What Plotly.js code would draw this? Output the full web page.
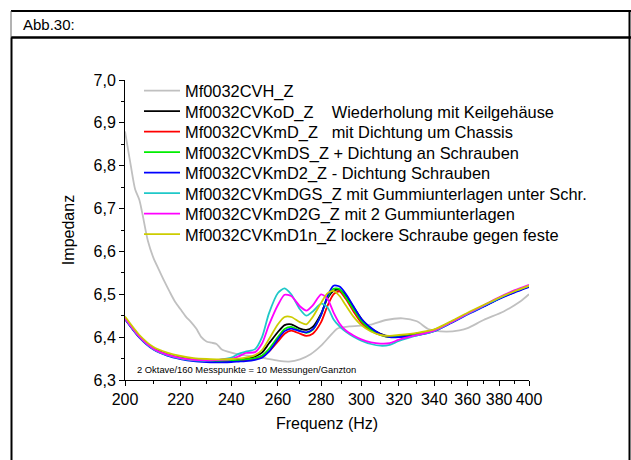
<!DOCTYPE html>
<html><head><meta charset="utf-8">
<script src="https://cdn.plot.ly/plotly-3.0.1.min.js"></script>
<style>html,body{margin:0;padding:0;background:#fff}#chart{width:631px;height:460px}</style>
</head><body><div id="chart"></div>
<script>
// Gray reference curve (own frequency grid)
const freqVH = [200,201,202,203.5,205,206,208,210,212,214,216,218,220,222,224,226,228,230,232,234,236,240,245,250,255,260,265,270,275,280,284,288,294,300,305,313,322,330,337,347,355,360,370,383,394,400];
const zVH = [6.88,6.84,6.80,6.745,6.72,6.69,6.625,6.585,6.557,6.53,6.505,6.482,6.465,6.448,6.435,6.42,6.40,6.39,6.387,6.384,6.372,6.364,6.358,6.355,6.35,6.345,6.343,6.348,6.36,6.38,6.401,6.42,6.425,6.427,6.429,6.44,6.444,6.437,6.418,6.413,6.416,6.421,6.44,6.46,6.483,6.50];

// Common frequency grid for the other curves (Hz)
const freq = [200,205,210,215,220,225,230,235,240,243,246,250,253,256,260,263,266,270,273,276,280,283,286,289,292,296,300,305,310,315,320,330,340,350,360,370,380,390,400];
const zKoD   = [6.444,6.401,6.374,6.360,6.352,6.347,6.345,6.345,6.346,6.347,6.349,6.355,6.364,6.385,6.412,6.428,6.430,6.420,6.417,6.424,6.455,6.490,6.508,6.510,6.498,6.470,6.443,6.420,6.408,6.402,6.403,6.408,6.417,6.435,6.455,6.472,6.490,6.505,6.518];
const zKmD   = [6.443,6.400,6.373,6.359,6.351,6.346,6.344,6.343,6.344,6.345,6.346,6.349,6.354,6.366,6.390,6.408,6.415,6.408,6.403,6.408,6.435,6.472,6.500,6.507,6.490,6.460,6.434,6.415,6.405,6.400,6.401,6.406,6.416,6.435,6.455,6.473,6.491,6.506,6.519];
const zKmDS  = [6.444,6.401,6.373,6.359,6.351,6.346,6.344,6.344,6.345,6.346,6.348,6.351,6.357,6.372,6.400,6.419,6.424,6.415,6.410,6.417,6.452,6.492,6.513,6.512,6.494,6.465,6.438,6.417,6.405,6.400,6.401,6.406,6.416,6.435,6.455,6.473,6.491,6.506,6.519];
const zKmD2  = [6.442,6.399,6.371,6.357,6.349,6.344,6.342,6.341,6.342,6.343,6.344,6.347,6.352,6.366,6.395,6.414,6.420,6.414,6.411,6.418,6.452,6.495,6.520,6.518,6.502,6.472,6.443,6.422,6.407,6.400,6.400,6.404,6.414,6.433,6.453,6.471,6.489,6.504,6.517];
const zKmDGS = [6.443,6.400,6.372,6.358,6.350,6.346,6.345,6.347,6.352,6.361,6.366,6.372,6.400,6.455,6.503,6.514,6.500,6.465,6.450,6.460,6.478,6.470,6.442,6.425,6.413,6.401,6.392,6.384,6.380,6.382,6.391,6.404,6.414,6.434,6.454,6.473,6.491,6.507,6.520];
const zKmD2G = [6.444,6.401,6.373,6.359,6.351,6.347,6.346,6.347,6.349,6.355,6.363,6.365,6.385,6.428,6.475,6.499,6.496,6.472,6.462,6.474,6.500,6.490,6.458,6.432,6.416,6.404,6.395,6.388,6.385,6.386,6.394,6.405,6.415,6.435,6.455,6.474,6.493,6.509,6.522];
const zKmD1n = [6.448,6.405,6.377,6.364,6.356,6.351,6.349,6.348,6.349,6.350,6.352,6.358,6.370,6.395,6.430,6.447,6.447,6.435,6.430,6.447,6.480,6.502,6.508,6.496,6.475,6.448,6.428,6.413,6.405,6.403,6.405,6.410,6.418,6.437,6.457,6.475,6.492,6.507,6.520];

const seriesLabels = [
  'Mf0032CVH_Z',
  'Mf0032CVKoD_Z\u00A0\u00A0\u00A0\u00A0Wiederholung mit Keilgehäuse',
  'Mf0032CVKmD_Z\u00A0\u00A0\u00A0mit Dichtung um Chassis',
  'Mf0032CVKmDS_Z + Dichtung an Schrauben',
  'Mf0032CVKmD2_Z - Dichtung Schrauben',
  'Mf0032CVKmDGS_Z mit Gummiunterlagen unter Schr.',
  'Mf0032CVKmD2G_Z mit 2 Gummiunterlagen',
  'Mf0032CVKmD1n_Z lockere Schraube gegen feste'
];
const seriesColors = ['#c0c0c0','#000000','#ff0000','#00ee00','#0000ff','#1fc8c8','#ff00ff','#cccc00'];

const xTickVals = [200,220,240,260,280,300,320,340,360,380,400];
const xTickText = ['200','220','240','260','280','300','320','340','360','380','400'];
const xMinorVals = [210,230,250,270,290,310,330,350,370,390];

const noteText = '2 Oktave/160 Messpunkte = 10 Messungen/Ganzton';
const headerText = 'Abb.30:';

// Layout geometry (px)
const W = 631, H = 460;
const M = {l:125, r:102, t:80, b:80};
const PW = W - M.l - M.r, PH = H - M.t - M.b;
const px = p => (p - M.l) / PW;
const py = p => (H - M.b - p) / PH;

const xs = [freqVH, freq, freq, freq, freq, freq, freq, freq];
const ys = [zVH, zKoD, zKmD, zKmDS, zKmD2, zKmDGS, zKmD2G, zKmD1n];
const FONT = 'Liberation Sans, Arial, sans-serif';

const traces = ys.map((y, i) => ({
  x: xs[i], y: y, type: 'scatter', mode: 'lines',
  name: seriesLabels[i],
  line: {color: seriesColors[i], width: 1.8, shape: 'spline', smoothing: 0.7},
  legend: i === 0 ? 'legend' : 'legend' + (i + 1),
  showlegend: true
}));

const layout = {
  width: W, height: H,
  margin: M,
  paper_bgcolor: '#fff', plot_bgcolor: '#fff',
  separators: ',.',
  font: {family: FONT, size: 16, color: '#000'},
  xaxis: {
    type: 'log', range: [Math.log10(200), Math.log10(400)],
    tickmode: 'array', tickvals: xTickVals, ticktext: xTickText, tickangle: 0,
    ticks: 'outside', ticklen: 5, tickwidth: 1, tickcolor: '#000',
    minor: {tickmode: 'array', tickvals: xMinorVals, ticks: 'outside', ticklen: 3, tickwidth: 1, tickcolor: '#000'},
    showline: true, linecolor: '#000', linewidth: 1, showgrid: false, zeroline: false,
    tickfont: {family: FONT, size: 16},
    title: {text: 'Frequenz (Hz)', font: {family: FONT, size: 16}, standoff: 10}
  },
  yaxis: {
    range: [6.3, 7.0], dtick: 0.1, tick0: 6.3, tickformat: '.1f',
    ticks: 'outside', ticklen: 5, tickwidth: 1, tickcolor: '#000',
    minor: {dtick: 0.05, tick0: 6.3, ticks: 'outside', ticklen: 3, tickwidth: 1, tickcolor: '#000'},
    showline: true, linecolor: '#000', linewidth: 1, showgrid: false, zeroline: false,
    tickfont: {family: FONT, size: 16},
    title: {text: 'Impedanz', font: {family: FONT, size: 16}, standoff: 14}
  },
  annotations: [
    {text: noteText, xref: 'paper', yref: 'paper', x: px(135), y: py(369), xanchor: 'left', yanchor: 'middle', showarrow: false, font: {family: FONT, size: 9.4}},
    {text: headerText, xref: 'paper', yref: 'paper', x: px(21), y: py(25), xanchor: 'left', yanchor: 'middle', showarrow: false, font: {family: FONT, size: 15}}
  ],
  shapes: [
    {type: 'line', xref: 'paper', yref: 'paper', x0: px(11), x1: px(631), y0: py(11), y1: py(11), line: {color: '#000', width: 2}},
    {type: 'line', xref: 'paper', yref: 'paper', x0: px(11), x1: px(631), y0: py(37.5), y1: py(37.5), line: {color: '#000', width: 2.5}},
    {type: 'line', xref: 'paper', yref: 'paper', x0: px(11), x1: px(11), y0: py(11), y1: py(37.5), line: {color: '#666', width: 1}},
    {type: 'line', xref: 'paper', yref: 'paper', x0: px(11.5), x1: px(11.5), y0: py(37.5), y1: py(460), line: {color: '#000', width: 2}},
    {type: 'line', xref: 'paper', yref: 'paper', x0: px(629.5), x1: px(629.5), y0: py(10), y1: py(460), line: {color: '#000', width: 2}}
  ],
  showlegend: true
};

for (let i = 0; i < 8; i++) {
  const key = i === 0 ? 'legend' : 'legend' + (i + 1);
  layout[key] = {
    x: px(139), y: py(91 + i * 20.5), xanchor: 'left', yanchor: 'middle',
    bgcolor: 'rgba(0,0,0,0)', borderwidth: 0, itemwidth: 36,
    font: {family: FONT, size: 16.4, color: '#000'}
  };
}

Plotly.newPlot('chart', traces, layout, {displayModeBar: false, staticPlot: true});
</script>
</body></html>
